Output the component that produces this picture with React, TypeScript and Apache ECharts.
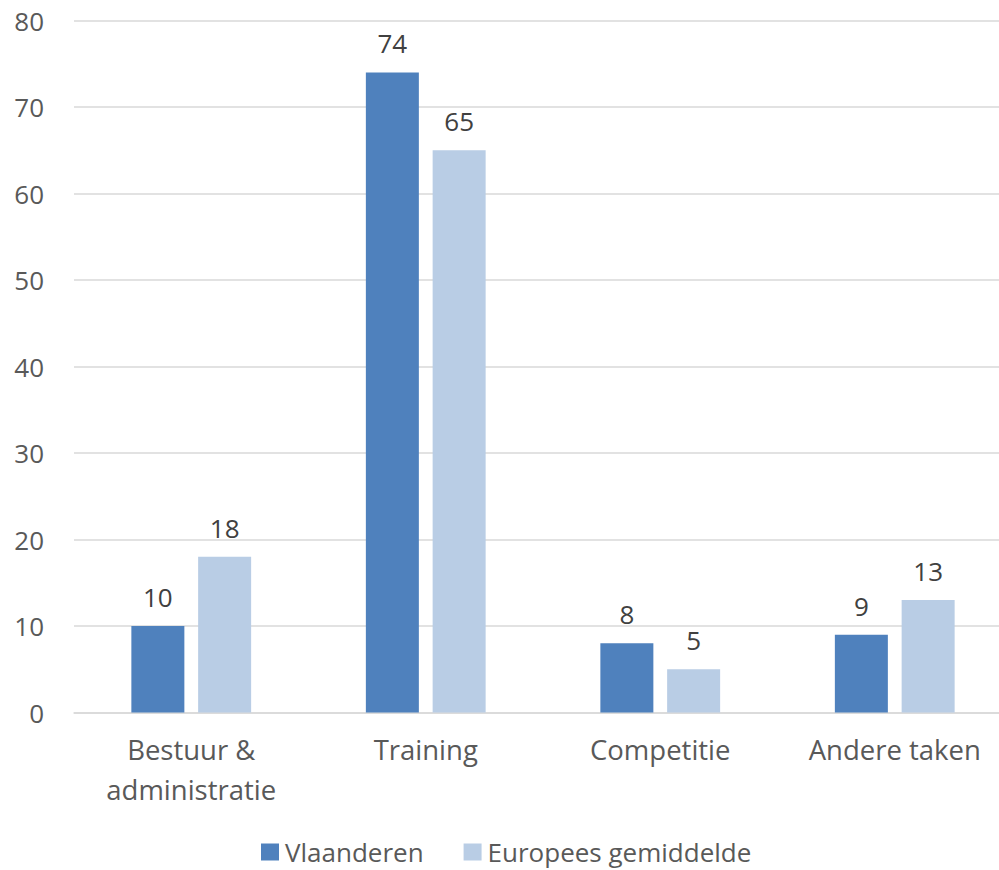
import React, { useEffect, useRef } from "react";
import * as echarts from "echarts";

const categories = ["Bestuur &\nadministratie", "Training", "Competitie", "Andere taken"];
const vlaanderen = [10, 74, 8, 9];
const europees = [18, 65, 5, 13];
const seriesNames = ["Vlaanderen", "Europees gemiddelde"];

const FONT = "'Open Sans', sans-serif";

export default function App() {
  const ref = useRef<HTMLDivElement>(null);
  useEffect(() => {
    if (!ref.current) return;
    const chart = echarts.init(ref.current, undefined, { renderer: "svg" });
    chart.setOption({
      animation: false,
      textStyle: { fontFamily: FONT },
      grid: { left: 74, right: 1, top: 20.5, bottom: 157.5, containLabel: false },
      legend: {
        left: 256,
        top: 834,
        itemWidth: 18,
        itemHeight: 17,
        itemGap: 40,
        icon: "rect",
        textStyle: {
          fontFamily: FONT,
          fontSize: 26,
          lineHeight: 20,
          color: "#595959",
          padding: [0, 0, 0, 1],
        },
        data: seriesNames,
      },
      xAxis: {
        type: "category",
        data: categories,
        axisTick: { show: false },
        axisLine: { lineStyle: { color: "#d9d9d9", width: 1.5 } },
        axisLabel: {
          fontFamily: FONT,
          fontSize: 27.5,
          color: "#595959",
          lineHeight: 40,
          margin: 17,
          interval: 0,
        },
      },
      yAxis: {
        type: "value",
        min: 0,
        max: 80,
        interval: 10,
        axisLine: { show: false },
        axisTick: { show: false },
        splitLine: { lineStyle: { color: "#d9d9d9", width: 1.5 } },
        axisLabel: { fontFamily: FONT, fontSize: 26, color: "#595959", margin: 30 },
      },
      series: [
        {
          name: seriesNames[0],
          type: "bar",
          data: vlaanderen,
          barWidth: 53,
          barGap: "26%",
          itemStyle: { color: "#4f81bd" },
          label: { show: true, position: "top", distance: 16, fontFamily: FONT, fontSize: 26, color: "#404040" },
        },
        {
          name: seriesNames[1],
          type: "bar",
          data: europees,
          barWidth: 53,
          itemStyle: { color: "#b9cde5" },
          label: { show: true, position: "top", distance: 16, fontFamily: FONT, fontSize: 26, color: "#404040" },
        },
      ],
    });
    return () => chart.dispose();
  }, []);
  return (
    <div
      style={{ position: "absolute", left: 0, top: 0, width: 999, height: 870, overflow: "hidden", background: "#fff" }}
    >
      <div ref={ref} style={{ width: 1013, height: 870 }} />
    </div>
  );
}
